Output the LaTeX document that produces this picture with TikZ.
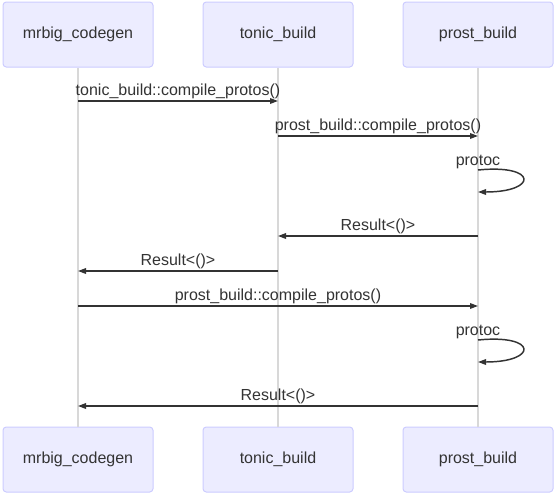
\documentclass[tikz,border=0pt]{standalone}
\usepackage{fontspec}
\setmainfont{Liberation Sans}
\usepackage{xcolor}
\usepackage{tikz}
\usetikzlibrary{
    arrows.meta,
    positioning
}

\begin{document}
\begin{tikzpicture}[
    x=0.75pt, y=-0.75pt,
    font=\fontsize{12}{14}\selectfont,
    actor/.style={
    	draw=actor-line, fill=actor-fill,
    	line width=0.75pt,
    	minimum width=112.5pt,
    	minimum height=48.75pt,
    	rounded corners=2.5pt, inner sep=2pt, align=center,
    	text=txt
    }, life/.style={
    	draw=life-line,
    	line width=1pt
    }, msg/.style={
    	-{Triangle[length=6pt,width=4.2pt]},
    	draw=msg-line,
    	line width=1.1pt
    }, lbl/.style={
    	text=txt, anchor=base, inner sep=0pt
    }]
    \definecolor{actor-fill}{RGB}{236, 236, 255}
    \definecolor{actor-line}{RGB}{204, 204, 255}
    \definecolor{life-line}{RGB}{216, 216, 216}
    \definecolor{msg-line}{RGB}{51, 51, 51}
    \definecolor{txt}{RGB}{51, 51, 51}

    \useasboundingbox (0,0) rectangle (554,493);

    % participants
    \node[actor] (codegen-top) at (78,34.5) {mrbig\_codegen};
    \node[actor] (tonic-top) at (278,34.5) {tonic\_build};
    \node[actor] (prost-top) at (478,34.5) {prost\_build};
    \node[actor] (codegen-bot) at (78,459.5) {mrbig\_codegen};
    \node[actor] (tonic-bot) at (278,459.5) {tonic\_build};
    \node[actor] (prost-bot) at (478,459.5) {prost\_build};

    \draw[life] (codegen-top) -- (codegen-bot);
    \draw[life] (tonic-top) -- (tonic-bot);
    \draw[life] (prost-top) -- (prost-bot);

    % message rows
    \coordinate (m1) at (0,101);
    \coordinate (m2) at (0,136);
    \coordinate (loop1a) at (0,170);
    \coordinate (loop1b) at (0,192);
    \coordinate (m3) at (0,236);
    \coordinate (m4) at (0,271);
    \coordinate (m5) at (0,306);
    \coordinate (loop2a) at (0,340);
    \coordinate (loop2b) at (0,362);
    \coordinate (m6) at (0,406);

    \draw[msg] (codegen-top |- m1) -- node[lbl, yshift=4.5pt] {tonic\_build::compile\_protos()} (tonic-top |- m1);
    \draw[msg] (tonic-top |- m2) -- node[lbl, yshift=4.5pt] {prost\_build::compile\_protos()} (prost-top |- m2);

    \node[lbl] (protoc1) at (478,165) {protoc};
    \draw[msg] (prost-top |- loop1a) .. controls (538,164) and (538,192) .. (prost-top |- loop1b);

    \draw[msg] (prost-top |- m3) -- node[lbl, yshift=4.5pt] {Result<()>} (tonic-top |- m3);
    \draw[msg] (tonic-top |- m4) -- node[lbl, yshift=4.5pt] {Result<()>} (codegen-top |- m4);
    \draw[msg] (codegen-top |- m5) -- node[lbl, yshift=4.5pt] {prost\_build::compile\_protos()} (prost-top |- m5);

    \node[lbl] (protoc2) at (478,335) {protoc};
    \draw[msg] (prost-top |- loop2a) .. controls (538,334) and (538,362) .. (prost-top |- loop2b);

    \draw[msg] (prost-top |- m6) -- node[lbl, yshift=4.5pt] {Result<()>} (codegen-top |- m6);

\end{tikzpicture}
\end{document}
